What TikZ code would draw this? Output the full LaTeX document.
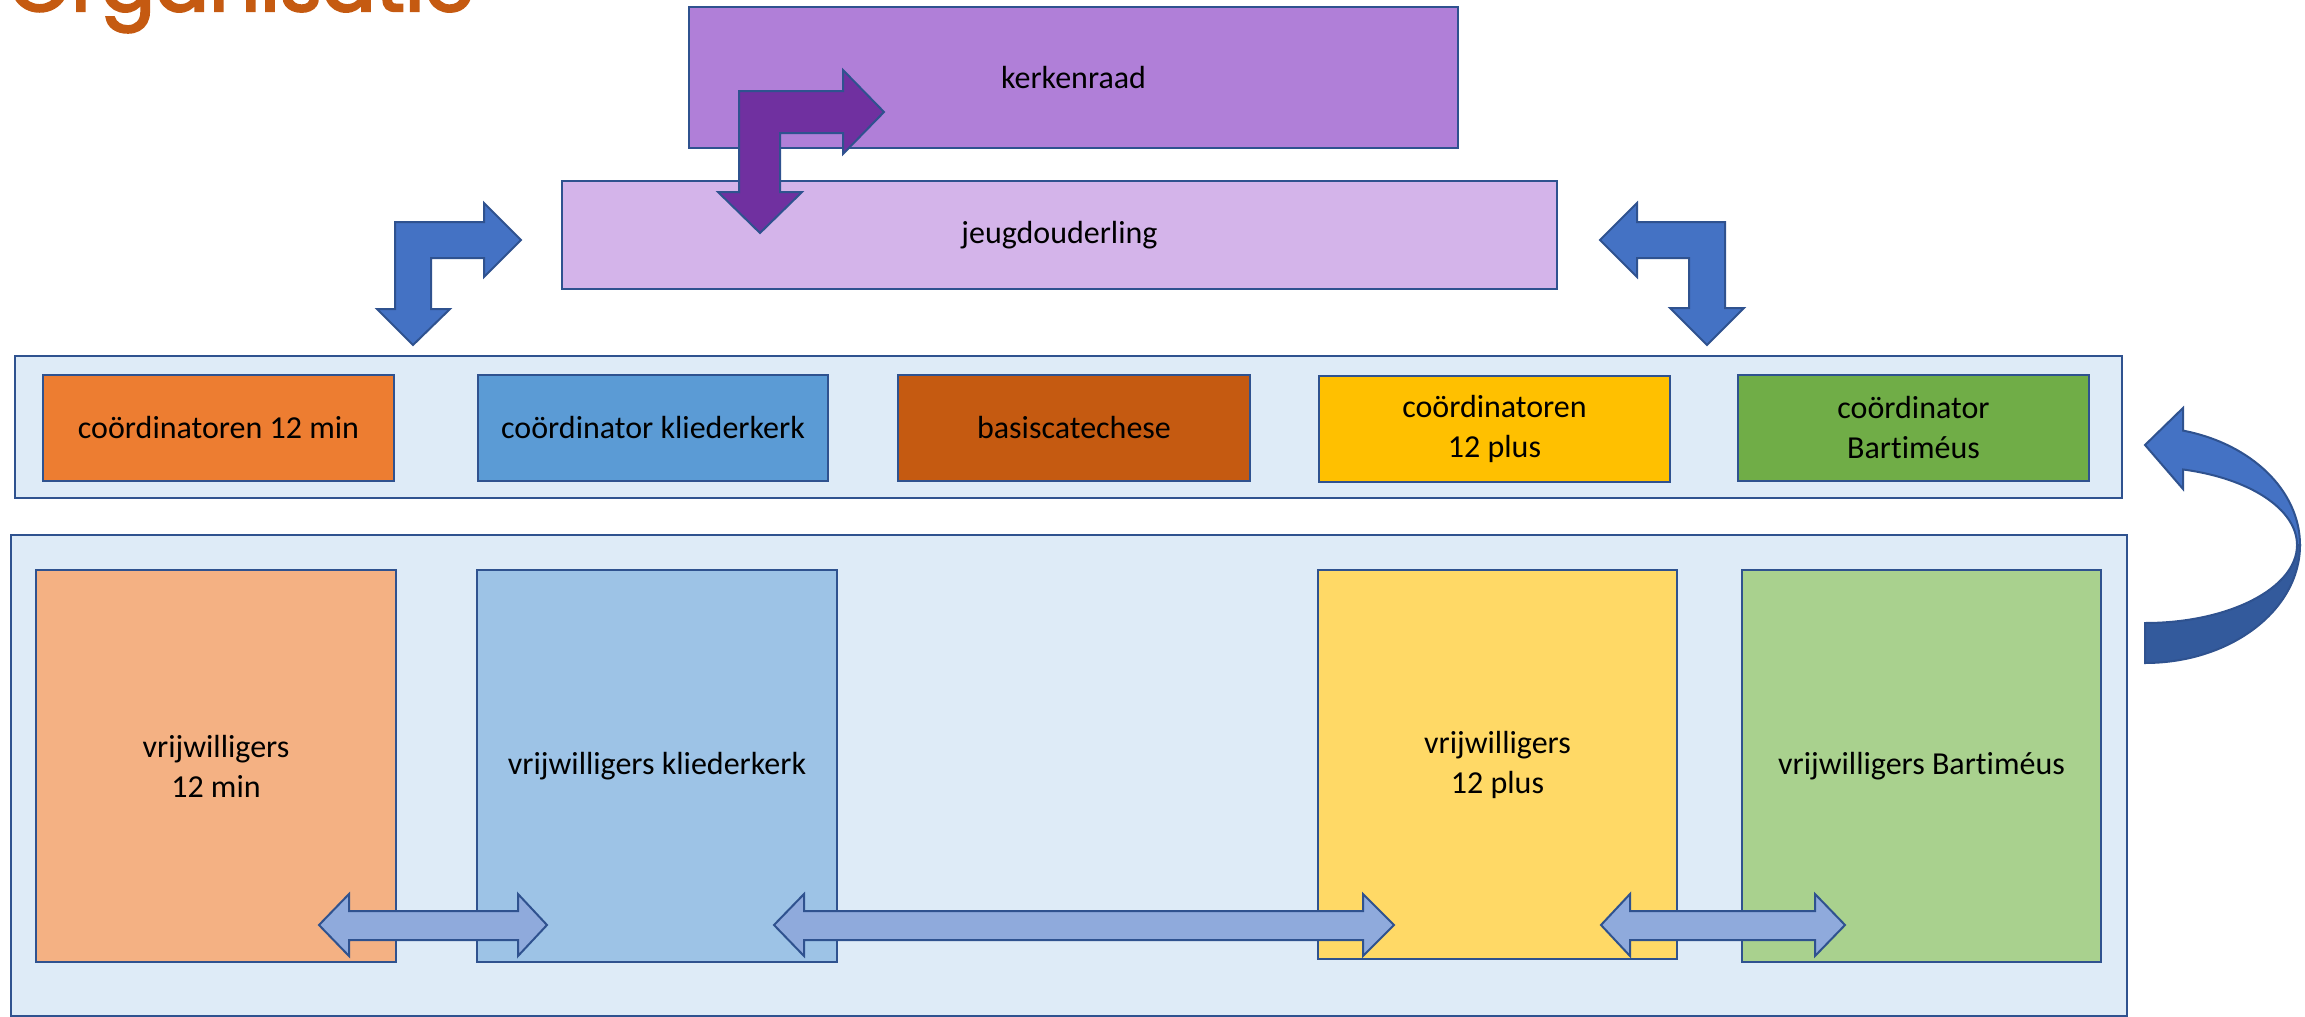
\documentclass[tikz,border=0pt]{standalone}
\usepackage{fontspec}
\setmainfont{Carlito}[RawFeature={-liga;-clig;-dlig;-calt}]
\newfontfamily\titlefont{Poppins}[FakeBold=3]
\usetikzlibrary{calc}
\definecolor{edge}{HTML}{2F528F}
\definecolor{titleorange}{HTML}{C55A11}
\definecolor{kerkfill}{HTML}{B07FD8}
\definecolor{jeugdfill}{HTML}{D4B4EA}
\definecolor{purplearrow}{HTML}{7030A0}
\definecolor{bluearrow}{HTML}{4472C4}
\definecolor{darkarrow}{HTML}{335A9C}
\definecolor{contfill}{HTML}{DEEBF7}
\definecolor{dblfill}{HTML}{8FAADC}
\definecolor{c1}{HTML}{ED7D31}
\definecolor{c2}{HTML}{5B9BD5}
\definecolor{c3}{HTML}{C55A11}
\definecolor{c4}{HTML}{FFC000}
\definecolor{c5}{HTML}{70AD47}
\definecolor{v1}{HTML}{F4B183}
\definecolor{v2}{HTML}{9DC3E6}
\definecolor{v4}{HTML}{FFD966}
\definecolor{v5}{HTML}{A9D18E}
\begin{document}
\begin{tikzpicture}[x=1pt,y=-1pt,
  box/.style={draw=edge, line width=2pt, rectangle, inner sep=0pt, align=center,
    font=\fontsize{32}{40}\selectfont},
  blockarrow/.style={draw=edge, line width=2pt, line join=miter}]
\useasboundingbox (0,0) rectangle (2305,1017);
\clip (0,0) rectangle (2305,1017);
% title
\node[anchor=base west, text=titleorange, inner sep=0pt,
  font=\titlefont\fontsize{80}{80}\selectfont] (title) at (8,11) {Organisatie};
% top boxes
\node[box, fill=kerkfill, minimum width=769pt, minimum height=141pt] (kerk) at (1073.5,77.5) {kerkenraad};
\node[box, fill=jeugdfill, minimum width=995pt, minimum height=108pt] (jeugd) at (1059.5,235) {jeugdouderling};
% purple bent arrow
\draw[blockarrow, fill=purplearrow] (739,192) -- (739,91) -- (843,91) -- (843,70) -- (884,112)
  -- (843,154) -- (843,133) -- (780,133) -- (780,192) -- (802,192) -- (760,233) -- (718,192) -- cycle;
% containers
\node[box, fill=contfill, minimum width=2107pt, minimum height=142pt] (cont1) at (1068.5,427) {};
\node[box, fill=contfill, minimum width=2116pt, minimum height=481pt] (cont2) at (1069,775.5) {};
% blue bent arrows
\draw[blockarrow, fill=bluearrow] (395,309) -- (395,222) -- (484,222) -- (484,203) -- (521,240)
  -- (484,277) -- (484,258) -- (431,258) -- (431,309) -- (450,309) -- (413,345) -- (377,309) -- cycle;
\draw[blockarrow, fill=bluearrow] (1600,240) -- (1637,203) -- (1637,222) -- (1725,222) -- (1725,308)
  -- (1744,308) -- (1707,345) -- (1670,308) -- (1689,308) -- (1689,258) -- (1637,258) -- (1637,277) -- cycle;
% coordinator row
\node[box, fill=c1, minimum width=351pt, minimum height=106pt] (c12min) at (218.5,428) {coördinatoren 12 min};
\node[box, fill=c2, minimum width=350pt, minimum height=106pt] (ckl) at (653,428) {coördinator kliederkerk};
\node[box, fill=c3, minimum width=352pt, minimum height=106pt] (basis) at (1074,428) {basiscatechese};
\node[box, fill=c4, minimum width=351pt, minimum height=106pt] (c12plus) at (1494.5,429) {coördinatoren\\12 plus};
\node[box, fill=c5, minimum width=351pt, minimum height=106pt] (cbart) at (1913.5,428) {coördinator\\Bartiméus};
% volunteers row
\node[box, fill=v1, minimum width=360pt, minimum height=392pt] (v12min) at (216,766) {vrijwilligers\\12 min};
\node[box, fill=v2, minimum width=360pt, minimum height=392pt] (vkl) at (657,766) {vrijwilligers kliederkerk};
\node[box, fill=v4, minimum width=359pt, minimum height=389pt] (v12plus) at (1497.5,764.5) {vrijwilligers\\12 plus};
\node[box, fill=v5, minimum width=359pt, minimum height=392pt] (vbart) at (1921.5,766) {vrijwilligers Bartiméus};
% double arrows
\draw[blockarrow, fill=dblfill] (319,925) -- (349,894) -- (349,911) -- (518,911) -- (518,894) -- (547,925)
  -- (518,956) -- (518,940) -- (349,940) -- (349,956) -- cycle;
\draw[blockarrow, fill=dblfill] (774,925) -- (804,894) -- (804,911) -- (1363,911) -- (1363,894) -- (1394,925)
  -- (1363,956) -- (1363,940) -- (804,940) -- (804,956) -- cycle;
\draw[blockarrow, fill=dblfill] (1601,925) -- (1630,894) -- (1630,911) -- (1815,911) -- (1815,894) -- (1845,925)
  -- (1815,956) -- (1815,940) -- (1630,940) -- (1630,956) -- cycle;
% curved arrow
\coordinate (cc) at (2145,545);
\draw[blockarrow, fill=darkarrow] ($(cc)+(0:155pt and 118pt)$)
  arc[start angle=0, end angle=-90, x radius=155pt, y radius=118pt]
  -- ($(cc)+(-90:152pt and 78pt)$)
  arc[start angle=-90, end angle=0, x radius=152pt, y radius=78pt] -- cycle;
\draw[blockarrow, fill=bluearrow] ($(cc)+(75.8:155pt and 118pt)$)
  arc[start angle=75.8, end angle=0, x radius=155pt, y radius=118pt]
  -- ($(cc)+(0:152pt and 78pt)$)
  arc[start angle=0, end angle=75.5, x radius=152pt, y radius=78pt]
  -- (2183,489) -- (2145,445) -- (2183,408) -- cycle;
\end{tikzpicture}
\end{document}
